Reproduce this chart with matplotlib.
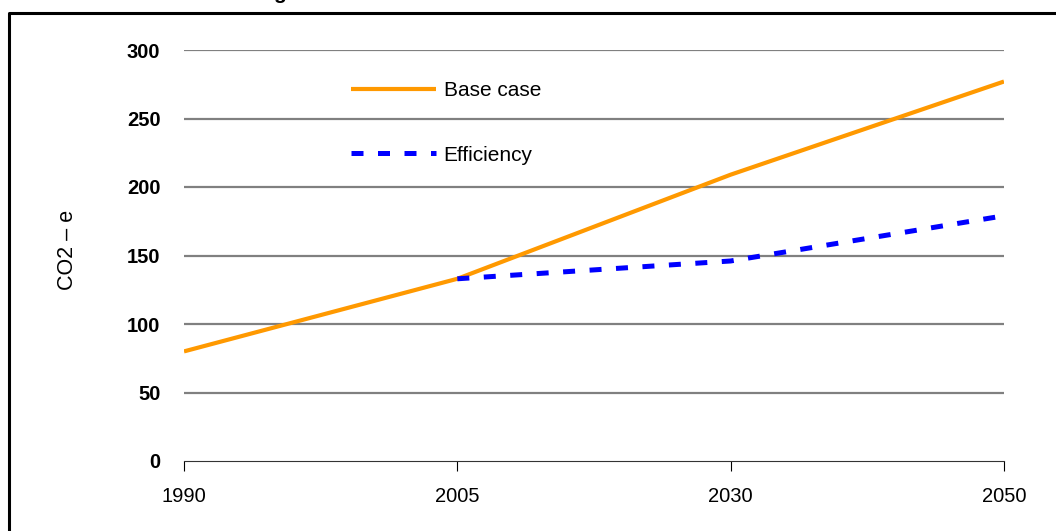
import matplotlib
matplotlib.use("Agg")
import matplotlib.pyplot as plt
from matplotlib.lines import Line2D

plt.rcParams['font.family'] = ['Liberation Sans Narrow', 'Liberation Sans', 'DejaVu Sans']

# data
years = ['1990', '2005', '2030', '2050']
base_case = [80, 133, 209, 277]
eff_years = ['2005', '2030', '2050']
efficiency = [133, 146, 179]
y_ticks = [0, 50, 100, 150, 200, 250, 300]

W, H = 1056, 531
fig = plt.figure(figsize=(W / 100, H / 100), dpi=100)
ax = fig.add_axes([184 / W, (H - 461) / H, 820 / W, 411 / H])

xpos = {y: i for i, y in enumerate(years)}
ax.plot([xpos[y] for y in years], base_case, color='#FF9900', lw=3.0,
        solid_capstyle='butt', label='Base case', zorder=3)
ax.plot([xpos[y] for y in eff_years], efficiency, color='#0000FF', lw=3.6,
        dashes=(2.4, 2.9), dash_capstyle='butt', label='Efficiency', zorder=3)

for v in y_ticks[1:]:
    ax.axhline(v, color='#808080', lw=1.6, zorder=1)

ax.set_xlim(0, len(years) - 1)
ax.set_ylim(0, 300)
ax.set_xticks(range(len(years)))
ax.set_xticklabels(years, fontsize=14.5)
ax.set_yticks(y_ticks)
ax.set_yticklabels([str(v) for v in y_ticks], fontsize=14.5, fontweight='bold')
ax.tick_params(axis='x', direction='out', length=7, width=0.8, pad=12, colors='black')
ax.tick_params(axis='y', length=0, pad=17)
for s in ['top', 'right', 'left']:
    ax.spines[s].set_visible(False)
ax.spines['bottom'].set_linewidth(0.8)
ax.spines['bottom'].set_color('#333333')

ax.set_ylabel('CO2 \u2013 e', fontsize=15.5)
ax.yaxis.set_label_coords((78 - 184) / 820, 0.513)

ax.legend(loc='upper left', bbox_to_anchor=((351 - 184) / 820, 0.925),
          frameon=False, fontsize=15, handlelength=4.1, handletextpad=0.35,
          labelspacing=2.2, borderpad=0, borderaxespad=0)

# outer frame (top and left edge visible)
fig.add_artist(Line2D([9 / W, 9 / W, 1.0], [0.0, (H - 13) / H, (H - 13) / H],
                      transform=fig.transFigure, color='black', lw=2.2))
# cut-off title descender
fig.text(273 / W, 1.0 + 1 / H, 'g', fontsize=15, fontweight='bold',
         va='baseline', ha='left')

fig.savefig('out.png', dpi=100)
